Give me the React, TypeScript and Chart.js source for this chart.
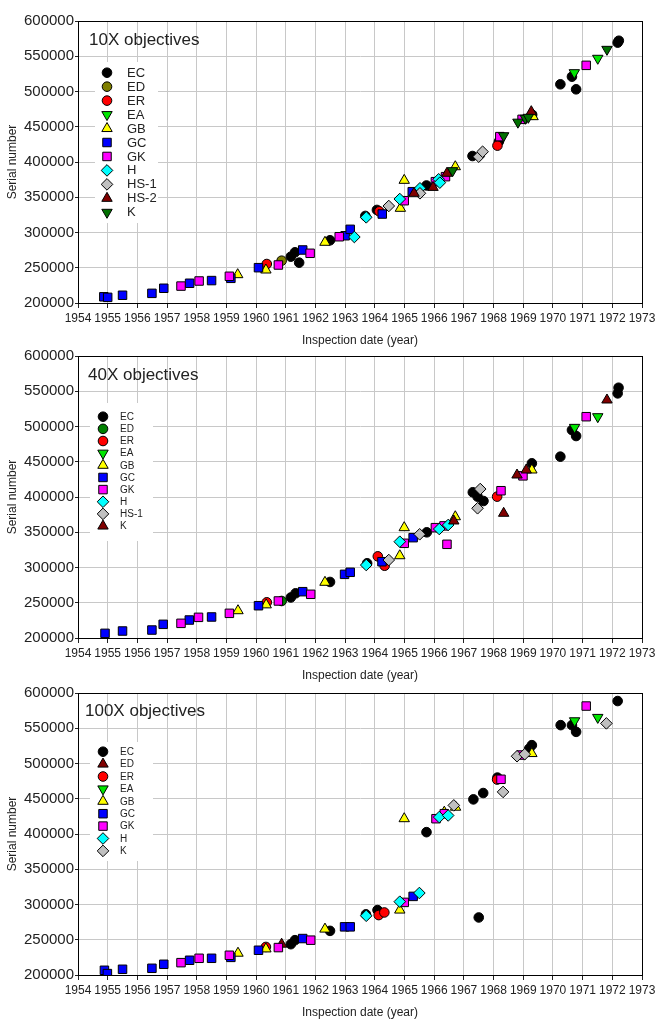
import React, { useEffect, useRef } from 'react';
import { Chart, registerables } from 'chart.js';

Chart.register(...registerables);

const FONT = '"Liberation Sans", Arial, sans-serif';

const X_TICKS = [1954, 1955, 1956, 1957, 1958, 1959, 1960, 1961, 1962, 1963, 1964, 1965, 1966, 1967, 1968, 1969, 1970, 1971, 1972, 1973];
const Y_TICKS = [200000, 250000, 300000, 350000, 400000, 450000, 500000, 550000, 600000];

type P = [number, number][];

// ---------- 10X objectives ----------
const X10_EC: P = [[1961.17, 265700], [1961.31, 271900], [1961.45, 257200], [1962.49, 289000], [1963.68, 323500], [1964.07, 332000], [1965.74, 366700], [1967.29, 408500], [1968.18, 429000], [1969.3, 467000], [1970.25, 510200], [1970.64, 521000], [1970.78, 503100], [1972.18, 569300], [1972.22, 572000]];
const X10_ED: P = [[1960.86, 260000]];
const X10_ER: P = [[1960.36, 255300], [1964.15, 330000], [1968.13, 423200]];
const X10_EA: P = [[1970.72, 526700], [1971.51, 547100]];
const X10_GB: P = [[1959.38, 240200], [1960.33, 246800], [1962.32, 286100], [1964.86, 334300], [1964.99, 374000], [1966.71, 393300], [1969.33, 464300]];
const X10_GC: P = [[1954.87, 208800], [1955.0, 208000], [1955.5, 211000], [1956.49, 213700], [1956.89, 220900], [1957.76, 228000], [1958.5, 231800], [1959.15, 235000], [1960.08, 250100], [1961.57, 275200], [1963.0, 295400], [1963.17, 304500], [1964.25, 326200], [1965.26, 357900]];
const X10_GK: P = [[1957.47, 224000], [1958.08, 231200], [1959.1, 237900], [1960.75, 253900], [1961.82, 270500], [1962.8, 294000], [1964.99, 345100], [1966.04, 372100], [1966.38, 379200], [1968.21, 436000], [1968.96, 460500], [1971.12, 537100]];
const X10_H: P = [[1963.31, 293600], [1963.71, 321500], [1964.84, 347500], [1965.52, 362700], [1966.15, 375500], [1966.19, 370700]];
const X10_HS1: P = [[1964.47, 337600], [1965.52, 355600], [1967.5, 407600], [1967.63, 414600]];
const X10_HS2: P = [[1965.32, 355600], [1965.96, 364000], [1966.43, 384000], [1969.27, 471400]];
const X10_K: P = [[1966.62, 387700], [1968.34, 437300], [1968.82, 456500], [1969.07, 462000], [1969.17, 463400], [1971.82, 559800]];

// ---------- 40X objectives ----------
const X40_EC: P = [[1961.17, 257500], [1961.33, 263400], [1962.49, 279500], [1963.74, 306000], [1965.75, 349900], [1967.3, 406700], [1967.46, 400500], [1967.66, 394300], [1969.29, 447800], [1970.25, 457200], [1970.64, 495000], [1970.78, 486500], [1972.18, 547000], [1972.21, 555000]];
const X40_ED: P = [[1960.86, 252500]];
const X40_ER: P = [[1960.36, 250600], [1964.1, 315800], [1964.33, 302500], [1968.12, 400500]];
const X40_EA: P = [[1970.73, 498800], [1971.51, 513900]];
const X40_GB: P = [[1959.39, 238700], [1960.34, 247000], [1962.32, 279000], [1964.84, 316700], [1964.99, 356500], [1966.71, 372000], [1969.29, 438300]];
const X40_GC: P = [[1954.91, 206600], [1955.5, 209900], [1956.49, 211300], [1956.87, 219400], [1957.75, 225500], [1958.5, 229800], [1960.08, 245800], [1961.57, 265700], [1962.98, 290300], [1963.17, 293200], [1964.24, 308200], [1965.29, 342300]];
const X40_GK: P = [[1957.47, 220800], [1958.06, 229300], [1959.1, 235000], [1960.75, 252500], [1961.84, 262000], [1964.99, 334300], [1966.04, 356500], [1966.33, 359000], [1966.43, 332900], [1968.25, 408900], [1968.99, 430000], [1971.12, 513900]];
const X40_H: P = [[1963.71, 303500], [1964.84, 336600], [1966.17, 354600], [1966.47, 360300]];
const X40_HS1: P = [[1964.47, 310600], [1965.51, 347100], [1967.55, 411300], [1967.46, 384000]];
const X40_K: P = [[1966.66, 366000], [1968.34, 376900], [1968.79, 431200], [1969.1, 438300], [1971.82, 537600]];

// ---------- 100X objectives ----------
const X100_EC: P = [[1961.17, 243700], [1961.31, 249400], [1962.49, 262600], [1963.7, 286000], [1964.09, 292100], [1965.74, 402600], [1967.32, 449100], [1967.5, 281600], [1967.65, 458100], [1968.13, 480000], [1969.2, 521000], [1969.29, 526000], [1970.26, 554400], [1970.64, 554400], [1970.78, 544900], [1972.18, 588600]];
const X100_ED: P = [[1960.86, 243700]];
const X100_ER: P = [[1960.33, 239800], [1964.13, 285000], [1964.32, 288700], [1968.12, 477200]];
const X100_EA: P = [[1970.73, 560600], [1971.51, 565400]];
const X100_GB: P = [[1959.39, 230900], [1960.33, 237000], [1962.32, 265100], [1964.84, 292100], [1964.99, 421700], [1966.34, 431000], [1966.72, 438000], [1969.29, 514100]];
const X100_GC: P = [[1954.89, 206700], [1954.99, 202000], [1955.5, 208100], [1956.49, 209500], [1956.89, 215200], [1957.76, 220900], [1958.5, 223700], [1959.15, 225000], [1960.08, 235100], [1961.57, 251700], [1962.98, 268300], [1963.17, 268300], [1965.29, 311500]];
const X100_GK: P = [[1957.47, 217500], [1958.08, 223700], [1959.1, 228000], [1960.75, 238900], [1961.84, 249400], [1964.99, 303000], [1966.06, 421700], [1966.34, 428800], [1968.25, 477600], [1968.92, 512000], [1971.12, 581500]];
const X100_H: P = [[1963.71, 284000], [1964.84, 304000], [1965.5, 316300], [1966.17, 424000], [1966.47, 426300]];
const X100_K: P = [[1966.66, 440600], [1968.32, 459700], [1968.79, 510300], [1969.05, 513200], [1971.8, 556900]];

type Shape = 'circle' | 'square' | 'triangle' | 'down' | 'diamond';
type Series = { label: string; data: P; color: string; shape: Shape };
type LegendCfg = { title: string; titleX: number; titleY: number; box: [number, number, number, number]; firstY: number; step: number; markerX: number; textX: number; fontSize: number };
type PanelCfg = { series: Series[]; legend: LegendCfg; top: number };

const SHAPES: Record<Shape, { style: string; rotation: number; radius: number }> = {
  circle: { style: 'circle', rotation: 0, radius: 4.8 },
  square: { style: 'rect', rotation: 0, radius: 6.0 },
  triangle: { style: 'triangle', rotation: 0, radius: 6.0 },
  down: { style: 'triangle', rotation: 180, radius: 6.0 },
  diamond: { style: 'rectRot', rotation: 0, radius: 5.8 },
};

const PANEL_10: PanelCfg = {
  top: 0,
  series: [
    { label: 'EC', data: X10_EC, color: '#000000', shape: 'circle' },
    { label: 'ED', data: X10_ED, color: '#7f7f00', shape: 'circle' },
    { label: 'ER', data: X10_ER, color: '#ff0000', shape: 'circle' },
    { label: 'EA', data: X10_EA, color: '#00e600', shape: 'down' },
    { label: 'GB', data: X10_GB, color: '#ffff00', shape: 'triangle' },
    { label: 'GC', data: X10_GC, color: '#0000ff', shape: 'square' },
    { label: 'GK', data: X10_GK, color: '#ff00ff', shape: 'square' },
    { label: 'H', data: X10_H, color: '#00ffff', shape: 'diamond' },
    { label: 'HS-1', data: X10_HS1, color: '#c0c0c0', shape: 'diamond' },
    { label: 'HS-2', data: X10_HS2, color: '#800000', shape: 'triangle' },
    { label: 'K', data: X10_K, color: '#007000', shape: 'down' },
  ],
  legend: { title: '10X objectives', titleX: 89, titleY: 40, box: [95, 62, 63, 161], firstY: 72.7, step: 13.96, markerX: 107, textX: 127, fontSize: 13 },
};

const PANEL_40: PanelCfg = {
  top: 335,
  series: [
    { label: 'EC', data: X40_EC, color: '#000000', shape: 'circle' },
    { label: 'ED', data: X40_ED, color: '#008000', shape: 'circle' },
    { label: 'ER', data: X40_ER, color: '#ff0000', shape: 'circle' },
    { label: 'EA', data: X40_EA, color: '#00e600', shape: 'down' },
    { label: 'GB', data: X40_GB, color: '#ffff00', shape: 'triangle' },
    { label: 'GC', data: X40_GC, color: '#0000ff', shape: 'square' },
    { label: 'GK', data: X40_GK, color: '#ff00ff', shape: 'square' },
    { label: 'H', data: X40_H, color: '#00ffff', shape: 'diamond' },
    { label: 'HS-1', data: X40_HS1, color: '#c0c0c0', shape: 'diamond' },
    { label: 'K', data: X40_K, color: '#800000', shape: 'triangle' },
  ],
  legend: { title: '40X objectives', titleX: 88, titleY: 40, box: [90, 68, 63, 138], firstY: 81.7, step: 12.15, markerX: 103, textX: 120, fontSize: 10 },
};

const PANEL_100: PanelCfg = {
  top: 672,
  series: [
    { label: 'EC', data: X100_EC, color: '#000000', shape: 'circle' },
    { label: 'ED', data: X100_ED, color: '#800000', shape: 'triangle' },
    { label: 'ER', data: X100_ER, color: '#ff0000', shape: 'circle' },
    { label: 'EA', data: X100_EA, color: '#00e600', shape: 'down' },
    { label: 'GB', data: X100_GB, color: '#ffff00', shape: 'triangle' },
    { label: 'GC', data: X100_GC, color: '#0000ff', shape: 'square' },
    { label: 'GK', data: X100_GK, color: '#ff00ff', shape: 'square' },
    { label: 'H', data: X100_H, color: '#00ffff', shape: 'diamond' },
    { label: 'K', data: X100_K, color: '#c0c0c0', shape: 'diamond' },
  ],
  legend: { title: '100X objectives', titleX: 85, titleY: 39, box: [90, 70, 63, 119], firstY: 79.7, step: 12.4, markerX: 103, textX: 120, fontSize: 10 },
};

function drawMarker(ctx: CanvasRenderingContext2D, shape: Shape, color: string, x: number, y: number) {
  const s = SHAPES[shape];
  const r = s.radius;
  ctx.beginPath();
  if (shape === 'circle') {
    ctx.arc(x, y, r, 0, Math.PI * 2);
  } else if (shape === 'square') {
    const h = Math.SQRT1_2 * r;
    ctx.rect(x - h, y - h, 2 * h, 2 * h);
  } else if (shape === 'diamond') {
    ctx.moveTo(x - r, y);
    ctx.lineTo(x, y - r);
    ctx.lineTo(x + r, y);
    ctx.lineTo(x, y + r);
    ctx.closePath();
  } else {
    let rad = shape === 'down' ? Math.PI : 0;
    ctx.moveTo(x + Math.sin(rad) * r, y - Math.cos(rad) * r);
    rad += (2 * Math.PI) / 3;
    ctx.lineTo(x + Math.sin(rad) * r, y - Math.cos(rad) * r);
    rad += (2 * Math.PI) / 3;
    ctx.lineTo(x + Math.sin(rad) * r, y - Math.cos(rad) * r);
    ctx.closePath();
  }
  ctx.fillStyle = color;
  ctx.fill();
  ctx.lineWidth = 1;
  ctx.strokeStyle = '#000';
  ctx.stroke();
}

function makeDecor(panel: PanelCfg) {
  return {
    id: 'decor',
    beforeDatasetsDraw(chart: any) {
      const ctx: CanvasRenderingContext2D = chart.ctx;
      const L = panel.legend;
      ctx.save();
      ctx.fillStyle = '#ffffff';
      ctx.fillRect(L.box[0], L.box[1], L.box[2], L.box[3]);
      ctx.textAlign = 'left';
      ctx.textBaseline = 'middle';
      ctx.fillStyle = '#222';
      ctx.font = `17px ${FONT}`;
      ctx.fillText(L.title, L.titleX, L.titleY);
      ctx.font = `${L.fontSize}px ${FONT}`;
      panel.series.forEach((s, i) => {
        const y = L.firstY + i * L.step;
        drawMarker(ctx, s.shape, s.color, L.markerX, y);
        ctx.fillStyle = '#222';
        ctx.fillText(s.label, L.textX, y + 0.5);
      });
      ctx.restore();
    },
    afterDraw(chart: any) {
      const { ctx, chartArea: a } = chart;
      const al = (v: number) => Math.round(v - 0.5) + 0.5;
      ctx.save();
      ctx.strokeStyle = '#000';
      ctx.lineWidth = 1;
      const l = al(a.left), t = al(a.top), r = al(a.right), b = al(a.bottom);
      ctx.strokeRect(l, t, r - l, b - t);
      ctx.restore();
    },
  };
}

function Panel({ panel }: { panel: PanelCfg }) {
  const ref = useRef<HTMLCanvasElement>(null);
  useEffect(() => {
    if (!ref.current) return;
    const n = panel.series.length;
    const chart = new Chart(ref.current, {
      type: 'scatter',
      data: {
        datasets: panel.series.map((s, i) => ({
          label: s.label,
          data: s.data.map(([x, y]) => ({ x, y })),
          backgroundColor: s.color,
          borderColor: '#000',
          borderWidth: 1,
          pointStyle: SHAPES[s.shape].style as any,
          rotation: SHAPES[s.shape].rotation,
          pointRadius: SHAPES[s.shape].radius,
          pointHoverRadius: SHAPES[s.shape].radius,
          order: n - i,
        })),
      },
      options: {
        responsive: false,
        animation: false,
        events: [],
        layout: { padding: { top: 21, right: 22, left: 0, bottom: 0 } },
        plugins: { legend: { display: false }, tooltip: { enabled: false }, title: { display: false } },
        scales: {
          x: {
            type: 'linear',
            min: 1954,
            max: 1973,
            afterBuildTicks: (s: any) => { s.ticks = X_TICKS.map((v) => ({ value: v })); },
            afterFit: (s: any) => { s.height = 49; },
            ticks: { callback: (v: any) => String(v), autoSkip: false, maxRotation: 0, minRotation: 0, padding: 3, color: '#222', font: { family: FONT, size: 12 } },
            grid: { color: '#c8c8c8', lineWidth: 1, tickColor: '#222', tickLength: 5, drawTicks: true },
            border: { color: '#000', width: 1 },
            title: { display: true, text: 'Inspection date (year)', color: '#222', font: { family: FONT, size: 12 }, padding: { top: 0, bottom: 4 } },
          },
          y: {
            type: 'linear',
            min: 200000,
            max: 600000,
            afterBuildTicks: (s: any) => { s.ticks = Y_TICKS.map((v) => ({ value: v })); },
            afterFit: (s: any) => { s.width = 78; },
            ticks: { callback: (v: any) => String(v), autoSkip: false, padding: 1, color: '#222', font: { family: FONT, size: 15 } },
            grid: { color: '#c8c8c8', lineWidth: 1, tickColor: '#222', tickLength: 3, drawTicks: true },
            border: { color: '#000', width: 1 },
            title: { display: true, text: 'Serial number', color: '#222', font: { family: FONT, size: 12 }, padding: { top: 5, bottom: 0 } },
          },
        },
      },
      plugins: [makeDecor(panel)],
    } as any);
    return () => chart.destroy();
  }, [panel]);
  return (
    <canvas
      ref={ref}
      width={664}
      height={352}
      style={{ position: 'absolute', left: 0, top: panel.top, display: 'block' }}
    />
  );
}

export default function App() {
  return (
    <div style={{ position: 'absolute', left: 0, top: 0, width: 664, height: 1024, background: '#fff', overflow: 'hidden' }}>
      <Panel panel={PANEL_10} />
      <Panel panel={PANEL_40} />
      <Panel panel={PANEL_100} />
    </div>
  );
}
